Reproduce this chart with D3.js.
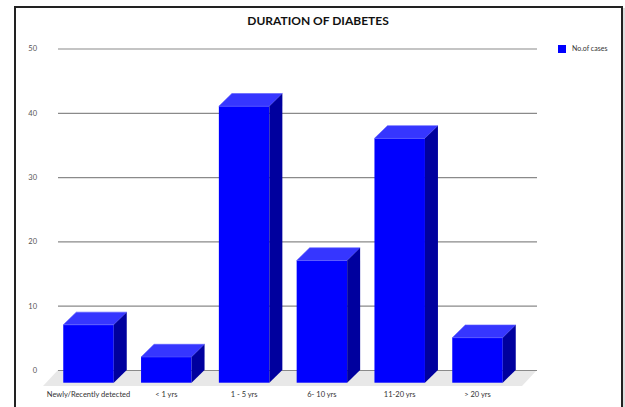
<!DOCTYPE html>
<html>
<head>
<meta charset="utf-8">
<script src="https://cdn.jsdelivr.net/npm/d3@7"></script>
<style>
  html, body { margin: 0; padding: 0; background: #fff; }
  svg { display: block; }
  text { font-family: Lato, "Open Sans", "DejaVu Sans", sans-serif; }
</style>
</head>
<body>
<svg id="chart" width="625" height="407"></svg>
<script>
// Patients grouped by how long they have had diabetes
const categories = ["Newly/Recently detected", "< 1 yrs", "1 - 5 yrs", "6- 10 yrs", "11-20 yrs", "> 20 yrs"];
const cases = [9, 4, 43, 19, 38, 7];
const yTicks = [0, 10, 20, 30, 40, 50];
const seriesName = "No.of cases";
const chartTitle = "DURATION OF DIABETES";

const W = 625, H = 407;
const svg = d3.select("#chart");

// 3D depth offset from the front face of a bar to its back plane
const depthX = 13, depthY = -12.7;

// Back plane (where the gridlines live)
const backLeft = 58, backRight = 537;
const y = d3.scaleLinear().domain([0, 50]).range([370, 48.5]);
const yFront = v => y(v) - depthY;

// Front faces of the bars
const x = d3.scaleBand()
  .domain(categories)
  .range([47.7, 47.7 + 77.8 * (6 - 0.351 + 0.4)])
  .paddingInner(0.351)
  .paddingOuter(0.2);

// Frame around the chart
svg.append("rect").attr("x", 0).attr("y", 0).attr("width", W).attr("height", H).attr("fill", "#fff");
svg.append("line").attr("x1", 624).attr("x2", 624).attr("y1", 8).attr("y2", H)
  .attr("stroke", "#ddd").attr("stroke-width", 2);
svg.append("path")
  .attr("d", `M15,${H + 5} V7 H622 V${H + 5}`)
  .attr("fill", "none").attr("stroke", "#222").attr("stroke-width", 2);

// Title
svg.append("text")
  .attr("x", 318).attr("y", 22)
  .attr("text-anchor", "middle").attr("dominant-baseline", "middle")
  .attr("font-size", 12).attr("font-weight", "bold").attr("fill", "#111")
  .text(chartTitle);

// Floor under the bars
const floorDepth = 16;
svg.append("polygon")
  .attr("points", [
    [backLeft, y(0)], [backRight, y(0)],
    [backRight - 15, y(0) + floorDepth], [backLeft - 15, y(0) + floorDepth]
  ].map(p => p.join(",")).join(" "))
  .attr("fill", "#e8e8e8");

// Gridlines and value labels
const yAxis = svg.append("g")
  .attr("transform", `translate(${backLeft},0)`)
  .call(d3.axisLeft(y).tickValues(yTicks).tickSize(-(backRight - backLeft)).tickPadding(21));
yAxis.select(".domain").remove();
yAxis.selectAll(".tick line").attr("stroke", "#8a8a8a").attr("stroke-width", 1.2);
yAxis.selectAll(".tick text")
  .attr("font-size", 7.5).attr("fill", "#555")
  .style("font-family", "Lato, 'Open Sans', sans-serif");

// Bars: front, top and side faces
const bars = svg.append("g").selectAll("g")
  .data(categories.map((c, i) => ({ c, v: cases[i] })))
  .join("g");

const bw = x.bandwidth();
bars.append("rect")
  .attr("x", d => x(d.c)).attr("y", d => yFront(d.v))
  .attr("width", bw).attr("height", d => yFront(0) - yFront(d.v))
  .attr("fill", "#0000ff");

bars.append("polygon")
  .attr("points", d => {
    const x0 = x(d.c), yt = yFront(d.v);
    return [[x0, yt], [x0 + bw, yt], [x0 + bw + depthX, yt + depthY], [x0 + depthX, yt + depthY]]
      .map(p => p.join(",")).join(" ");
  })
  .attr("fill", "#3636ff").attr("stroke", "#5a5aff").attr("stroke-width", 0.6);

bars.append("polygon")
  .attr("points", d => {
    const x1 = x(d.c) + bw, yt = yFront(d.v), yb = yFront(0);
    return [[x1, yt], [x1 + depthX, yt + depthY], [x1 + depthX, yb + depthY], [x1, yb]]
      .map(p => p.join(",")).join(" ");
  })
  .attr("fill", "#00009e");

// Category labels
const xAxis = svg.append("g")
  .attr("transform", `translate(0,389)`)
  .call(d3.axisBottom(x).tickSize(0).tickPadding(3));
xAxis.select(".domain").remove();
xAxis.selectAll(".tick text")
  .attr("font-size", 7.5).attr("fill", "#333")
  .style("font-family", "Lato, 'Open Sans', sans-serif");

// Legend
const legend = svg.append("g").attr("transform", "translate(558,45)");
legend.append("rect").attr("width", 8).attr("height", 8).attr("fill", "#0000ff");
legend.append("text")
  .attr("x", 14).attr("y", 4.5).attr("dominant-baseline", "middle")
  .attr("font-size", 7).attr("fill", "#333")
  .text(seriesName);
</script>
</body>
</html>
